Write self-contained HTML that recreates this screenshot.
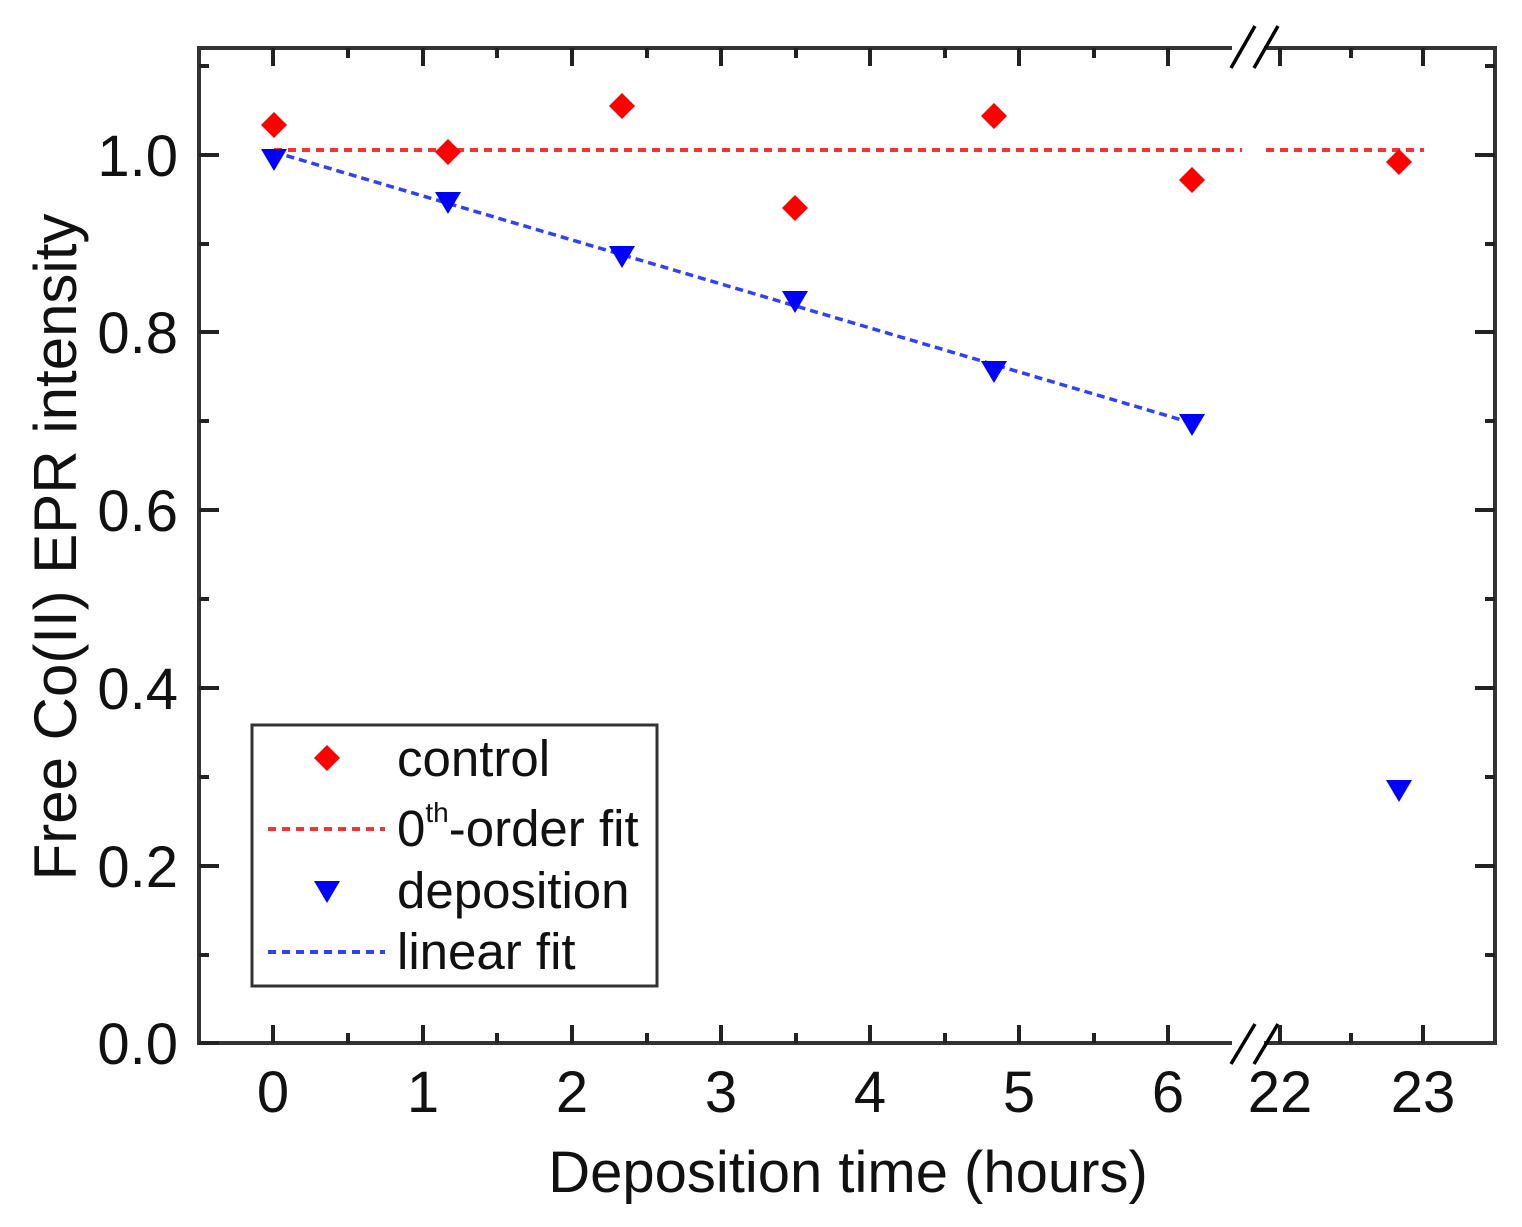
<!DOCTYPE html>
<html><head><meta charset="utf-8"><style>body{margin:0;background:#fff}svg{display:block}</style></head><body>
<svg width="1522" height="1227" viewBox="0 0 1522 1227" xmlns="http://www.w3.org/2000/svg" font-family="Liberation Sans, sans-serif">
<rect width="1522" height="1227" fill="#fff"/>
<line x1="274" y1="150" x2="1242" y2="150" stroke="#ff3030" stroke-width="4" stroke-dasharray="8,6"/>
<line x1="1266" y1="150" x2="1424" y2="150" stroke="#ff3030" stroke-width="4" stroke-dasharray="8,6"/>
<line x1="274" y1="152" x2="1192" y2="423" stroke="#3040ff" stroke-width="3.5" stroke-dasharray="8,5"/>
<g stroke="#333" stroke-width="4" fill="none">
<line x1="199" y1="48" x2="1232" y2="48"/>
<line x1="1264" y1="48" x2="1495" y2="48"/>
<line x1="199" y1="1043" x2="1232" y2="1043"/>
<line x1="1264" y1="1043" x2="1495" y2="1043"/>
<line x1="199" y1="46" x2="199" y2="1045"/>
<line x1="1495" y1="46" x2="1495" y2="1045"/>
</g>
<g stroke="#000" stroke-width="3.5">
<line x1="1231" y1="68" x2="1255" y2="26"/><line x1="1254" y1="68" x2="1278" y2="26"/>
<line x1="1231" y1="1064" x2="1255" y2="1024"/><line x1="1254" y1="1064" x2="1278" y2="1024"/>
</g>
<g stroke="#222" stroke-width="4">
<path d="M273 1043v-18M423 1043v-18M572 1043v-18M721 1043v-18M870 1043v-18M1019 1043v-18M1168 1043v-18M1280 1043v-18M1423 1043v-18
M273 48v18M423 48v18M572 48v18M721 48v18M870 48v18M1019 48v18M1168 48v18M1280 48v18M1423 48v18"/>
<path d="M348 1043v-10M497 1043v-10M647 1043v-10M796 1043v-10M945 1043v-10M1094 1043v-10M1351 1043v-10
M348 48v10M497 48v10M647 48v10M796 48v10M945 48v10M1094 48v10M1351 48v10"/>
<path d="M199 1043h20M199 866h20M199 688h20M199 510h20M199 332h20M199 155h20
M1495 866h-20M1495 688h-20M1495 510h-20M1495 332h-20M1495 155h-20"/>
<path d="M199 955h10M199 777h10M199 599h10M199 421h10M199 244h10M199 66h10
M1495 955h-10M1495 777h-10M1495 599h-10M1495 421h-10M1495 244h-10M1495 66h-10"/>
</g>
<g font-size="58" fill="#111" text-anchor="end">
<text x="178" y="1064">0.0</text><text x="178" y="887">0.2</text><text x="178" y="709">0.4</text>
<text x="178" y="531">0.6</text><text x="178" y="353">0.8</text><text x="178" y="176">1.0</text>
</g>
<g font-size="58" fill="#111" text-anchor="middle">
<text x="273" y="1112">0</text><text x="423" y="1112">1</text><text x="572" y="1112">2</text><text x="721" y="1112">3</text>
<text x="870" y="1112">4</text><text x="1019" y="1112">5</text><text x="1168" y="1112">6</text>
<text x="1280" y="1112">22</text><text x="1423" y="1112">23</text>
</g>
<text x="848" y="1192" font-size="58" text-anchor="middle" fill="#111">Deposition time (hours)</text>
<text transform="translate(76,547) rotate(-90)" font-size="60" text-anchor="middle" fill="#111">Free Co(II) EPR intensity</text>
<g fill="#ff0000">
<path d="M274 112l13 13-13 13-13-13z"/><path d="M448 139l13 13-13 13-13-13z"/><path d="M622 93l13 13-13 13-13-13z"/>
<path d="M795 195l13 13-13 13-13-13z"/><path d="M994 103l13 13-13 13-13-13z"/><path d="M1192 167l13 13-13 13-13-13z"/>
<path d="M1399 149l13 13-13 13-13-13z"/>
</g>
<g fill="#0000ff">
<path d="M261 149h26l-13 22z"/><path d="M435 192h26l-13 22z"/><path d="M609 246h26l-13 22z"/>
<path d="M782 291h26l-13 22z"/><path d="M981 361h26l-13 22z"/><path d="M1179 414h26l-13 22z"/>
<path d="M1386 780h26l-13 22z"/>
</g>
<rect x="252" y="725" width="405" height="261" fill="#fff" stroke="#333" stroke-width="3"/>
<path d="M327 745l13 13-13 13-13-13z" fill="#ff0000"/>
<line x1="268" y1="829" x2="385" y2="829" stroke="#ff3030" stroke-width="4" stroke-dasharray="8,6"/>
<path d="M314 881h26l-13 22z" fill="#0000ff"/>
<line x1="268" y1="952" x2="385" y2="952" stroke="#3040ff" stroke-width="4" stroke-dasharray="8,6"/>
<g font-size="51" fill="#111">
<text x="397" y="776">control</text>
<text x="397" y="846">0<tspan font-size="28" dy="-24">th</tspan><tspan dy="24">-order fit</tspan></text>
<text x="397" y="908">deposition</text>
<text x="397" y="969">linear fit</text>
</g>
</svg>
</body></html>
